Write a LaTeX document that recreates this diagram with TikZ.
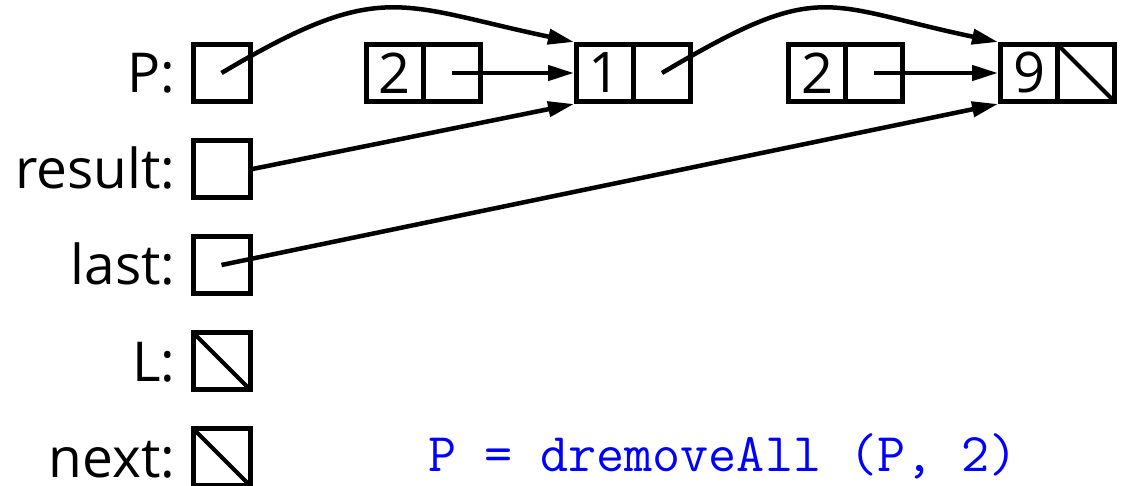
\documentclass[tikz,border=0pt]{standalone}
\usepackage{fontspec}
\setmainfont{Open Sans}
\usetikzlibrary{arrows.meta}
\begin{document}
\begin{tikzpicture}[x=1pt,y=-1pt,
  cellbox/.style={draw,line width=5pt,minimum size=57pt,inner sep=0pt,
    font=\fontsize{56}{60}\selectfont},
  varlabel/.style={anchor=base east,inner sep=0pt,text depth=0pt,font=\fontsize{55}{60}\selectfont},
  ptr/.style={line width=4.5pt,-{Triangle[length=26pt,width=15pt]}},
  nullline/.style={line width=4pt,shorten <=3.5pt,shorten >=3.5pt}]
\useasboundingbox (0,0) rectangle (1127,486);
% variable boxes
\node[cellbox] (P) at (221.5,73) {};
\node[cellbox] (res) at (221.5,169) {};
\node[cellbox] (last) at (221.5,265) {};
\node[cellbox] (L) at (221.5,361) {};
\node[cellbox] (nx) at (221.5,457) {};
\node[varlabel] (lP) at ([xshift=-15pt,yshift=-20pt]P.west) {P:};
\node[varlabel] (lres) at ([xshift=-15pt,yshift=-20pt]res.west) {result:};
\node[varlabel] (llast) at ([xshift=-15pt,yshift=-20pt]last.west) {last:};
\node[varlabel] (lL) at ([xshift=-15pt,yshift=-20pt]L.west) {L:};
\node[varlabel] (lnx) at ([xshift=-15pt,yshift=-20pt]nx.west) {next:};
\draw[nullline] (L.north west) -- (L.south east);
\draw[nullline] (nx.north west) -- (nx.south east);
% list cells
\node[cellbox] (c2a) at (395,73) {2};
\node[cellbox] (c2ap) at (452,73) {};
\node[cellbox] (c1a) at (605,73) {1};
\node[cellbox] (c1ap) at (662,73) {};
\node[cellbox] (c2b) at (817,73) {2};
\node[cellbox] (c2bp) at (874,73) {};
\node[cellbox] (c9a) at (1029,73) {9};
\node[cellbox] (c9ap) at (1086,73) {};
\draw[nullline] (c9ap.north west) -- (c9ap.south east);
% pointers
\draw[ptr] (P.center) .. controls +(160,-95) and +(-176,-37) .. (c1a.north west);
\draw[ptr] (c2ap.center) -- (c1a.west);
\draw[ptr] (res.east) -- (c1a.south west);
\draw[ptr] (c1ap.center) .. controls +(160,-95) and +(-176,-37) .. (c9a.north west);
\draw[ptr] (c2bp.center) -- (c9a.west);
\draw[ptr] (last.center) -- (c9a.south west);
% call
\node[anchor=base west,inner sep=0pt,text=blue,font=\ttfamily\fontsize{54.5}{60}\selectfont] (call) at (428,471) {P = dremoveAll (P, 2)};
\end{tikzpicture}
\end{document}
